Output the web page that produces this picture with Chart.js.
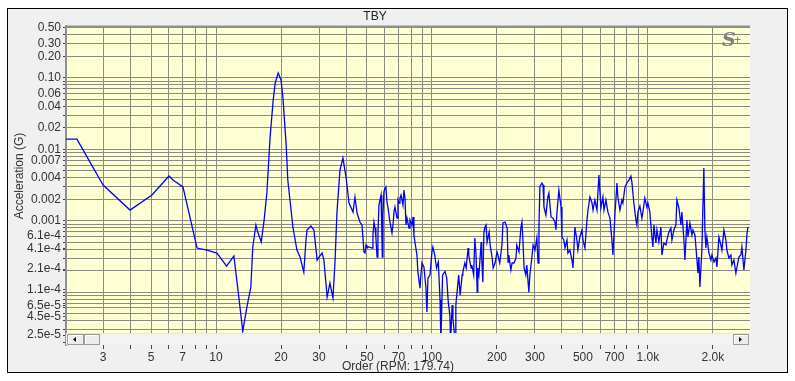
<!DOCTYPE html>
<html><head><meta charset="utf-8">
<script src="https://cdn.jsdelivr.net/npm/chart.js@4.4.1/dist/chart.umd.min.js"></script>
<style>html,body{margin:0;padding:0;background:#fff;overflow:hidden}</style>
</head><body>
<canvas id="c" width="795" height="381"></canvas>
<script>
const chartTitle = 'TBY';
const xAxisTitle = 'Order (RPM: 179.74)';
const yAxisTitle = 'Acceleration (G)';
const logoText = 'S';
const logoPlus = '+';

const orders = [
 2.02,2.27,3.0,4.0,5.05,6.06,6.32,7.03,8.17,9.08,
 10.1,11.2,12.1,12.8,13.3,13.9,14.5,14.8,15.3,15.6,
 16.2,16.7,17.2,17.8,18.4,18.8,19.4,20.0,20.4,21.1,
 21.5,22.7,23.7,24.5,25.5,26.1,26.4,27.5,28.4,29.4,
 30.0,31.0,31.6,32.7,33.7,34.8,35.6,36.3,37.5,38.7,
 40.0,41.3,43.1,44.0,45.0,
 46.4,47.4,47.9,48.4,49.0,49.5,50.0,51.1,52.8,53.3,
 53.9,54.5,55.0,55.7,56.2,56.8,58.1,58.5,58.9,59.3,
 59.9,60.6,61.2,61.9,62.6,63.9,65.3,66.0,66.7,67.4,
 68.9,69.6,70.4,71.1,71.9,73.4,74.2,75.0,75.8,76.6,
 78.3,79.1,80.8,81.7,82.5,83.4,85.2,86.1,88.0,88.9,
 89.9,91.8,93.8,94.8,95.8,97.9,100,101,103,105,
 107,109,110,112,115,117,119,121,122,124,
 125,128,129,132,133,135,138,139,142,144,
 147,148,150,152,153,156,158,160,162,163,
 165,169,170,172,174,176,178,180,184,186,
 190,192,196,200,202,206,211,213,218,223,
 225,227,232,235,240,245,247,253,258,261,
 264,267,272,275,281,284,290,294,300,
 306,310,313,316,323,327,330,337,344,348,
 356,363,371,375,379,387,396,400,408,413,
 422,426,435,445,450,459,469,474,484,495,
 500,511,522,528,539,551,557,568,581,593,
 606,619,626,639,653,667,681,689,704,719,
 726,742,758,766,783,799,817,834,843,861,
 880,889,899,918,938,948,968,989,1000,1021,
 1043,1055,1066,1089,1101,1124,1149,1161,1186,1212,
 1224,1251,1278,1292,1319,1348,1362,1392,1422,1437,
 1468,1484,1516,1532,1565,1599,1616,1651,1687,1704,
 1722,1741,1778,1797,1816,1836,1855,1875,1916,1958,
 1979,2022,2065,2087,2132,2178,2201,2249,2297,2321,
 2371,2423,2448,2501,2555,2582,2638,2695,2724,2783,
 2843,2873,2904
];
const acceleration = [
 0.0139,0.0139,0.00316,0.00141,0.00229,0.00423,0.00372,0.00297,0.000415,0.000389,
 0.000353,0.000232,0.000321,0.0000776,0.0000285,0.0000619,0.000118,0.000429,0.000871,0.000695,
 0.000504,0.00102,0.00244,0.0149,0.0491,0.0849,0.117,0.0935,0.0541,0.0123,
 0.00372,0.000817,0.000389,0.00031,0.000191,0.000537,0.000741,0.000843,0.000741,0.000282,
 0.00031,0.000353,0.000282,0.0000855,0.000134,0.0000828,0.000282,0.00128,0.00513,0.00755,
 0.00409,0.00177,0.00132,0.00215,0.00128,
 9.59e-4,8.71e-4,5.92e-4,3.65e-4,3.53e-4,4.57e-4,4.29e-4,4.29e-4,4.15e-4,6.31e-4,
 9.59e-4,7.91e-4,5.73e-4,3.1e-4,6.31e-4,1.66e-3,2.29e-3,8.71e-4,3.1e-4,1.2e-3,
 2.52e-3,2.87e-3,2.97e-3,1.83e-3,1.51e-3,9.59e-4,6.73e-4,8.71e-4,1.32e-3,1.56e-3,
 1.09e-3,1.95e-3,1.77e-3,2.08e-3,2.29e-3,1.66e-3,2.69e-3,2.08e-3,8.71e-4,1.09e-3,
 7.91e-4,1.02e-3,8.71e-4,1.13e-3,6.31e-4,5.04e-4,3.31e-4,1.91e-4,1.14e-4,1.74e-4,
 2.56e-4,2.25e-4,1.14e-4,5.26e-5,1.58e-4,1.74e-4,3.65e-4,4.29e-4,3.31e-4,2.18e-4,
 2.64e-4,7.76e-5,2.07e-5,1.74e-4,1.95e-4,1.58e-4,7.26e-5,4.78e-5,2.07e-5,6.59e-5,
 4.34e-5,2.07e-5,6.59e-5,1.38e-4,1.74e-4,9.1e-5,1.74e-4,1.91e-4,2.56e-4,2.18e-4,
 4.15e-4,3.31e-4,2.64e-4,2.18e-4,2.4e-4,1.74e-4,5.73e-4,3.31e-4,1.0e-4,2.18e-4,
 1.74e-4,5.04e-4,3.01e-4,1.38e-4,6.95e-4,8.17e-4,8.71e-4,5.04e-4,6.95e-4,4.57e-4,
 3.01e-4,2.18e-4,2.56e-4,3.65e-4,3.31e-4,2.56e-4,4.57e-4,9.29e-4,9.59e-4,7.91e-4,
 2.64e-4,3.31e-4,2.04e-4,2.56e-4,2.56e-4,3.01e-4,4.57e-4,3.65e-4,7.91e-4,9.59e-4,
 5.04e-4,2.18e-4,1.74e-4,2.4e-4,1.0e-4,1.74e-4,3.01e-4,4.57e-4,3.89e-4,
 5.73e-4,2.56e-4,8.17e-4,2.97e-3,3.37e-3,3.16e-3,1.56e-3,1.2e-3,2.15e-3,2.44e-3,
 1.13e-3,1.09e-3,9.59e-4,7.41e-4,1.28e-3,2.69e-3,1.56e-3,5.92e-4,5.37e-4,4.15e-4,
 5.37e-4,3.53e-4,3.89e-4,2.82e-4,2.18e-4,8.17e-4,5.37e-4,3.89e-4,5.92e-4,7.41e-4,
 5.37e-4,4.15e-4,1.02e-3,1.41e-3,2.15e-3,1.77e-3,1.41e-3,1.95e-3,1.41e-3,4.37e-3,
 1.51e-3,2.15e-3,1.41e-3,1.95e-3,1.32e-3,1.09e-3,5.37e-4,3.31e-4,1.28e-3,3.37e-3,
 2.15e-3,1.41e-3,1.95e-3,1.77e-3,2.97e-3,3.37e-3,3.72e-3,4.23e-3,3.48e-3,1.77e-3,
 1.02e-3,8.71e-4,1.32e-3,1.6e-3,1.09e-3,1.32e-3,2.08e-3,1.56e-3,1.77e-3,1.32e-3,
 5.92e-4,4.29e-4,8.71e-4,4.88e-4,7.41e-4,5.04e-4,8.17e-4,3.31e-4,4.88e-4,4.57e-4,
 5.37e-4,6.95e-4,7.91e-4,5.37e-4,7.41e-4,8.71e-4,1.95e-3,1.51e-3,8.71e-4,1.32e-3,
 5.37e-4,2.82e-4,1.02e-3,5.92e-4,9.29e-4,6.31e-4,7.41e-4,6.31e-4,2.82e-4,1.85e-4,
 3.1e-4,1.18e-4,3.89e-4,1.56e-3,5.47e-3,7.41e-4,4.15e-4,5.92e-4,3.53e-4,2.82e-4,
 3.31e-4,2.64e-4,3.01e-4,2.25e-4,5.92e-4,4.57e-4,3.89e-4,7.41e-4,5.37e-4,3.89e-4,
 3.01e-4,3.31e-4,2.4e-4,2.82e-4,1.85e-4,2.18e-4,3.1e-4,3.31e-4,4.29e-4,2.04e-4,
 3.89e-4,6.31e-4,8.17e-4
];

const xTickValues = [3,5,7,10,20,30,50,70,100,200,300,500,700,1000,2000];
const xTickLabels = ['3','5','7','10','20','30','50','70','100','200','300','500','700','1.0k','2.0k'];
const xGridValues = [3,4,5,6,7,8,9,10,20,30,40,50,60,70,80,90,100,200,300,400,500,600,700,800,900,1000,2000];

const yTickValues = [0.5,0.3,0.2,0.1,0.06,0.04,0.02,0.01,0.007,0.004,0.002,0.001,6.1e-4,4.1e-4,2.1e-4,1.1e-4,6.5e-5,4.5e-5,2.5e-5];
const yTickLabels = ['0.50','0.30','0.20','0.10','0.06','0.04','0.02','0.01','0.007','0.004','0.002','0.001','6.1e-4','4.1e-4','2.1e-4','1.1e-4','6.5e-5','4.5e-5','2.5e-5'];
const yGridValues = [2e-5,3e-5,4e-5,5e-5,6e-5,7e-5,8e-5,9e-5,
 1e-4,2e-4,3e-4,4e-4,5e-4,6e-4,7e-4,8e-4,9e-4,
 0.001,0.002,0.003,0.004,0.005,0.006,0.007,0.008,0.009,
 0.01,0.02,0.03,0.04,0.05,0.06,0.07,0.08,0.09,
 0.1,0.2,0.3,0.4,0.5];

function buildTicks(gridVals, labelVals, labels) {
  const out = gridVals.map(v => ({value: v, lbl: '', grid: true}));
  labelVals.forEach((v, i) => {
    const t = out.find(o => Math.abs(o.value - v) / v < 1e-6);
    if (t) t.lbl = labels[i]; else out.push({value: v, lbl: labels[i], grid: false});
  });
  out.sort((a, b) => a.value - b.value);
  return out;
}

const FONT = '"Liberation Sans", Arial, sans-serif';
const gridColor = '#8a8a80';
const gridFn = c => (c.tick && c.tick.grid === false) ? 'rgba(0,0,0,0)' : gridColor;

const framePlugin = {
  id: 'frame',
  beforeDraw(chart) {
    const ctx = chart.ctx, a = chart.chartArea;
    ctx.save();
    ctx.fillStyle = '#ffffff';
    ctx.fillRect(0, 0, chart.width, chart.height);
    ctx.fillStyle = '#f0f0f0';
    ctx.fillRect(7, 8, 781, 365);
    ctx.strokeStyle = '#000000';
    ctx.lineWidth = 1;
    ctx.strokeRect(7.5, 8.5, 780, 364);
    ctx.fillStyle = '#ffffd4';
    ctx.fillRect(a.left, a.top, a.right - a.left, a.bottom - a.top);
    ctx.restore();
  },
  afterDraw(chart) {
    const ctx = chart.ctx, a = chart.chartArea;
    ctx.save();
    ctx.strokeStyle = '#909090';
    ctx.lineWidth = 2;
    ctx.beginPath(); ctx.moveTo(a.left, a.top + 0.5); ctx.lineTo(a.right, a.top + 0.5); ctx.stroke();
    const sy = 333, sh = 12;
    ctx.fillStyle = '#f3f3f3';
    ctx.fillRect(a.left, sy, a.right - a.left, sh);
    ctx.strokeStyle = '#e4e4e4'; ctx.lineWidth = 1;
    ctx.beginPath(); ctx.moveTo(a.left, sy + 0.5); ctx.lineTo(a.right, sy + 0.5); ctx.stroke();
    function btn(x, w) {
      ctx.fillStyle = '#ececec';
      ctx.fillRect(x, sy + 1, w, sh - 1);
      ctx.strokeStyle = '#9c9c9c';
      ctx.strokeRect(x + 0.5, sy + 1.5, w - 1, sh - 2);
      ctx.strokeStyle = '#ffffff';
      ctx.beginPath(); ctx.moveTo(x + 1.5, sy + sh - 1); ctx.lineTo(x + 1.5, sy + 2.5); ctx.lineTo(x + w - 1.5, sy + 2.5); ctx.stroke();
    }
    btn(a.left + 1, 17);
    btn(a.left + 18, 16);
    btn(a.right - 17, 16);
    ctx.fillStyle = '#000';
    ctx.beginPath(); ctx.moveTo(a.left + 7, sy + 6.5); ctx.lineTo(a.left + 10, sy + 4); ctx.lineTo(a.left + 10, sy + 9); ctx.closePath(); ctx.fill();
    const rx = a.right - 17;
    ctx.beginPath(); ctx.moveTo(rx + 9, sy + 6.5); ctx.lineTo(rx + 6, sy + 4); ctx.lineTo(rx + 6, sy + 9); ctx.closePath(); ctx.fill();
    ctx.fillStyle = '#333';
    ctx.font = '12px ' + FONT;
    ctx.textAlign = 'center'; ctx.textBaseline = 'middle';
    ctx.fillText(xAxisTitle, 398, 367);
    ctx.translate(20, 176); ctx.rotate(-Math.PI / 2);
    ctx.fillText(yAxisTitle, 0, 0);
    ctx.setTransform(1, 0, 0, 1, 0, 0);
    ctx.fillStyle = '#808080';
    ctx.textAlign = 'left'; ctx.textBaseline = 'alphabetic';
    ctx.font = 'italic bold 19px "DejaVu Serif", "Liberation Serif", serif';
    ctx.fillText(logoText, 722, 46);
    ctx.font = '12px ' + FONT;
    ctx.fillText(logoPlus, 734, 44);
    ctx.restore();
  }
};

new Chart(document.getElementById('c'), {
  type: 'line',
  data: {
    datasets: [{
      data: orders.map((o, i) => ({x: o, y: acceleration[i]})),
      borderColor: '#0000ff',
      borderWidth: 1.3,
      pointRadius: 0,
      tension: 0,
      fill: false
    }]
  },
  options: {
    responsive: false,
    animation: false,
    devicePixelRatio: 1,
    layout: {padding: {left: 0, right: 45, top: 0, bottom: 0}},
    plugins: {
      legend: {display: false},
      tooltip: {enabled: false},
      title: {display: true, text: chartTitle, color: '#222', font: {family: FONT, size: 12, weight: 'normal'}, padding: {top: 9, bottom: 2.6}}
    },
    scales: {
      x: {
        type: 'logarithmic', min: 2.02, max: 2970,
        afterBuildTicks: s => { s.ticks = buildTicks(xGridValues, xTickValues, xTickLabels); },
        afterFit: s => { s.height = 36; },
        ticks: {autoSkip: false, maxRotation: 0, minRotation: 0, padding: 1, color: '#333',
          font: {family: FONT, size: 12}, callback: (v, i, t) => t[i].lbl},
        grid: {color: gridFn, tickColor: '#444', lineWidth: 1, tickLength: 4, drawTicks: true},
        border: {display: false}
      },
      y: {
        type: 'logarithmic', min: 1.82e-5, max: 0.533,
        afterBuildTicks: s => { s.ticks = buildTicks(yGridValues, yTickValues, yTickLabels); },
        afterFit: s => { s.width = 66; },
        ticks: {autoSkip: false, padding: 2, color: '#333',
          font: {family: FONT, size: 12}, callback: (v, i, t) => t[i].lbl},
        grid: {color: gridFn, tickColor: '#444', lineWidth: 1, tickLength: 3, drawTicks: true},
        border: {display: true, color: '#909090', width: 2}
      }
    }
  },
  plugins: [framePlugin]
});
</script>
</body></html>
